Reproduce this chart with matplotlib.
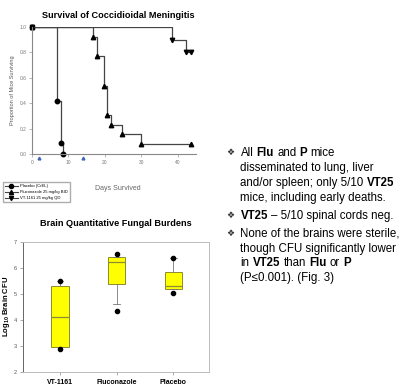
import matplotlib
matplotlib.use("Agg")
import matplotlib.pyplot as plt
from matplotlib.lines import Line2D

plt.rcParams['font.family'] = ['Liberation Sans', 'DejaVu Sans']
plt.rcParams['mathtext.fontset'] = 'custom'
plt.rcParams['mathtext.rm'] = 'Liberation Sans'
plt.rcParams['mathtext.bf'] = 'Liberation Sans:bold'

# survival curves (day, proportion surviving)
placebo_days = [0, 6.8, 7.9, 8.6]
placebo_surv = [1.0, 0.417, 0.083, 0.0]
flu_days = [0, 16.8, 17.7, 19.8, 20.7, 21.6, 24.7, 29.8, 43.5]
flu_surv = [1.0, 0.923, 0.769, 0.538, 0.308, 0.231, 0.154, 0.077, 0.077]
vt_days = [0, 38.5, 42.3, 43.6]
vt_surv = [1.0, 0.9, 0.8, 0.8]
treat_days = [2, 14]
legend_labels = ['Placebo (CrEL)', 'Fluconazole 25 mg/kg BID', 'VT-1161 25 mg/kg QD']

# brain fungal burdens (log10 CFU)
groups = ['VT-1161', 'Fluconazole', 'Placebo']
med = [4.09, 6.23, 5.29]
q1 = [2.94, 5.37, 5.17]
q3 = [5.30, 6.42, 5.85]
whis_lo = [2.94, 4.60, 5.17]
whis_hi = [5.50, 6.42, 6.38]
outliers = [[5.50, 2.86], [6.53, 4.33], [6.38, 5.04]]

W, H = 402, 387
fig = plt.figure(figsize=(W / 100, H / 100), dpi=100)

# ---- survival chart ----
ax1 = fig.add_axes([32 / W, 1 - 154 / H, 164 / W, 127 / H])
line_c = '#444444'
ax1.plot(placebo_days, placebo_surv, drawstyle='steps-post', color=line_c, lw=0.9)
ax1.plot(placebo_days, placebo_surv, 'o', color='black', ms=3.2, clip_on=False)
ax1.plot(flu_days, flu_surv, drawstyle='steps-post', color=line_c, lw=0.9)
ax1.plot(flu_days, flu_surv, '^', color='black', ms=3.2, clip_on=False)
ax1.plot(vt_days, vt_surv, drawstyle='steps-post', color=line_c, lw=0.9)
ax1.plot(vt_days, vt_surv, 'v', color='black', ms=3.2, clip_on=False)
ax1.plot(treat_days, [-0.03] * len(treat_days), '^', color='#3f66b0', ms=2, clip_on=False)
ax1.set_xlim(0, 45)
ax1.set_ylim(0, 1)
ax1.set_xticks([0, 10, 20, 30, 40])
ax1.set_yticks([0, 0.2, 0.4, 0.6, 0.8, 1.0])
ax1.set_yticklabels(['0.0', '0.2', '0.4', '0.6', '0.8', '1.0'])
for s in ['top', 'right']:
    ax1.spines[s].set_visible(False)
for s in ['left', 'bottom']:
    ax1.spines[s].set_color('#888888')
    ax1.spines[s].set_linewidth(0.8)
ax1.tick_params(labelsize=3.5, labelcolor='#777777', color='#999999', length=2, width=0.5, pad=2)
ax1.set_ylabel('Proportion of Mice Surviving', fontsize=4, color='#555555')
ax1.yaxis.set_label_coords(-0.105, 0.5)
fig.text(118 / W, 1 - 189 / H, 'Days Survived', fontsize=5, color='#666666', ha='center', va='center')

handles = [Line2D([], [], color=line_c, lw=0.8, marker=m, mfc='black', mec='black', ms=3)
           for m in ['o', '^', 'v']]
fig.legend(handles, legend_labels, loc='upper left', bbox_to_anchor=(1 / W, 1 - 180 / H),
           fontsize=3, frameon=True, fancybox=False, edgecolor='#999999',
           handlelength=3, borderpad=0.5, labelspacing=0.5, handletextpad=0.6)

fig.text(118 / W, 1 - 15 / H, 'Survival of Coccidioidal Meningitis', fontsize=6.6,
         fontweight='bold', ha='center', va='center')

# ---- box plot ----
ax2 = fig.add_axes([22.7 / W, 1 - 371.7 / H, 186.3 / W, 130 / H])
stats = []
for i, g in enumerate(groups):
    stats.append(dict(label=g, med=med[i], q1=q1[i], q3=q3[i],
                      whislo=whis_lo[i], whishi=whis_hi[i], fliers=outliers[i]))
ax2.bxp(stats, positions=[1, 2, 3], widths=0.31, patch_artist=True, showfliers=True,
        boxprops=dict(facecolor='#ffff00', edgecolor='#8c8c30', lw=0.7),
        medianprops=dict(color='#8c8c30', lw=0.9),
        whiskerprops=dict(color='#777777', lw=0.6),
        capprops=dict(color='#777777', lw=0.6), capwidths=0.12,
        flierprops=dict(marker='o', mfc='black', mec='black', ms=3))
ax2.set_xlim(0.34, 3.63)
ax2.set_ylim(2, 7)
ax2.set_yticks([2, 3, 4, 5, 6, 7])
ax2.set_xticks([1, 2, 3])
ax2.set_xticklabels(groups, fontsize=5, fontweight='bold')
for s in ['top', 'right', 'bottom']:
    ax2.spines[s].set_color('#bbbbbb')
    ax2.spines[s].set_linewidth(0.7)
ax2.spines['left'].set_color('#666666')
ax2.spines['left'].set_linewidth(0.7)
ax2.tick_params(axis='y', labelsize=4, labelcolor='#555555', color='#888888', length=2, width=0.5, pad=2)
ax2.tick_params(axis='x', color='#888888', length=2, width=0.5, pad=3)
ax2.set_ylabel(r'Log$_{\mathbf{10}}$ Brain CFU', fontsize=5.5, fontweight='bold')
ax2.yaxis.set_label_coords(-0.06, 0.5)
fig.text(116 / W, 1 - 224 / H, 'Brain Quantitative Fungal Burdens', fontsize=6.6,
         fontweight='bold', ha='center', va='center')

# ---- bullet text ----
renderer = fig.canvas.get_renderer()
fs = 8.3


def text_w(s, weight):
    t = fig.text(0, 0, s, fontsize=fs, fontweight=weight)
    w = t.get_window_extent(renderer).width
    t.remove()
    return w


def advance(s, weight):
    # width of s including leading/trailing spaces
    return text_w('I' + s + 'I', weight) - text_w('II', weight)


def rich_line(x_px, y_px, pieces):
    x = x_px
    for s, weight in pieces:
        lead = len(s) - len(s.lstrip(' '))
        fig.text((x + advance(' ' * lead, weight) if lead else x) / W, 1 - y_px / H,
                 s.strip(' '), fontsize=fs, fontweight=weight, va='baseline')
        x += advance(s, weight)


N, B = 'normal', 'bold'
lines = [
    (152, True, [('All ', N), ('Flu', B), (' and ', N), ('P', B), (' mice', N)]),
    (167, False, [('disseminated to lung, liver', N)]),
    (182, False, [('and/or spleen; only 5/10 ', N), ('VT25', B)]),
    (196.5, False, [('mice, including early deaths.', N)]),
    (215, True, [('VT25', B), (' \u2013 5/10 spinal cords neg.', N)]),
    (233, True, [('None of the brains were sterile,', N)]),
    (248, False, [('though CFU significantly lower', N)]),
    (262.5, False, [('in ', N), ('VT25', B), (' than ', N), ('Flu', B), (' or ', N), ('P', B)]),
    (277, False, [('(P\u22640.001). (Fig. 3)', N)]),
]
for y, bullet, pieces in lines:
    if bullet:
        fig.text(226 / W, 1 - (y + 3) / H, '\u2756', fontsize=6.5, va='baseline',
                 family=['DejaVu Sans'], color='#333333')
    rich_line(240.5, y + 4, pieces)

fig.savefig('out.png', dpi=100)
